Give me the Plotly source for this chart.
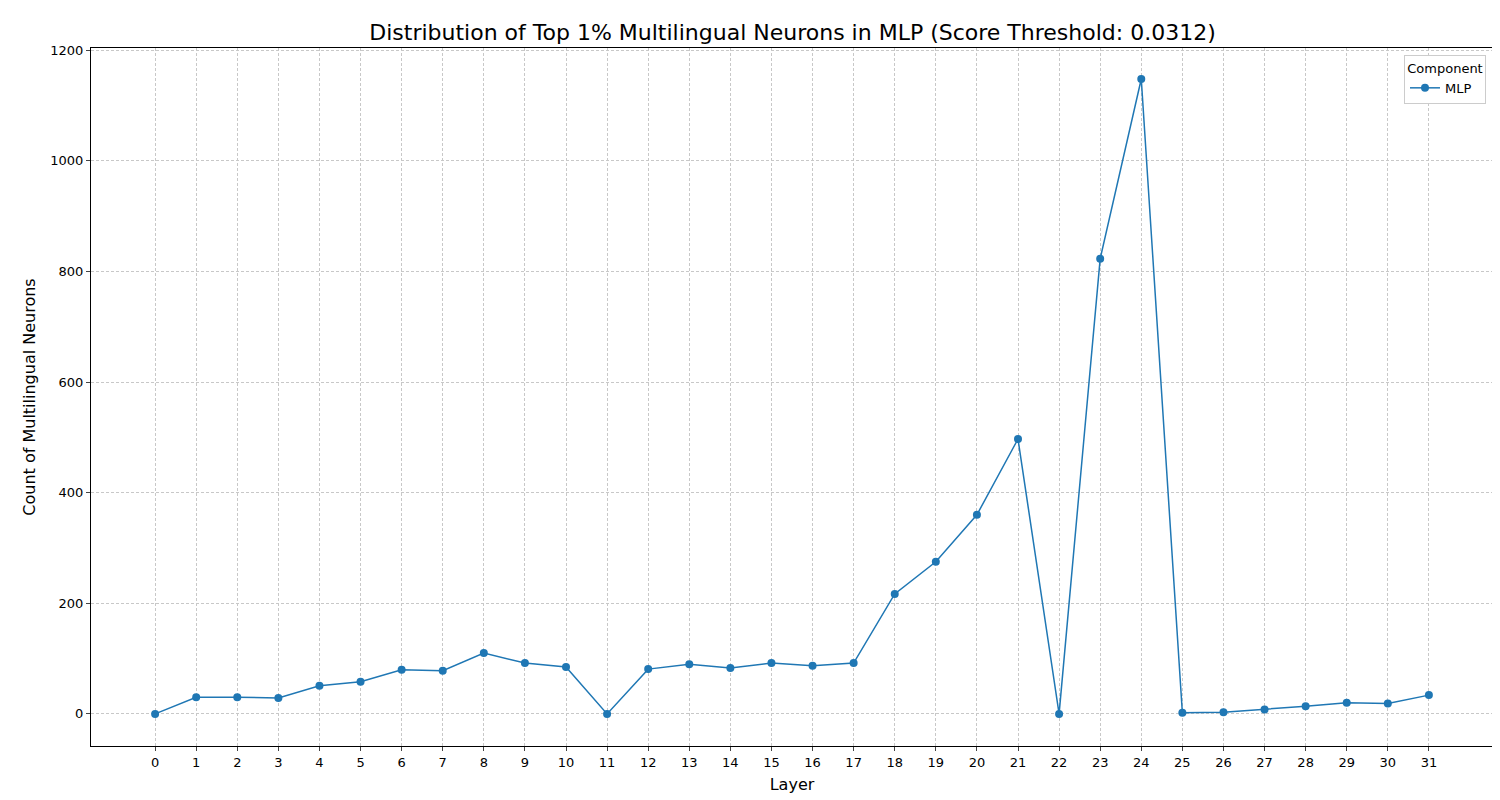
import plotly.graph_objects as go

layers = list(range(32))
counts = [0, 30, 30, 29, 51, 58, 80, 78, 110, 92, 85, 0, 81, 90, 83, 92, 87, 92,
          217, 275, 360, 497, 0, 823, 1148, 2, 3, 8, 14, 20, 19, 34]

fig = go.Figure(go.Scatter(x=layers, y=counts, mode="lines+markers", name="MLP",
                           line=dict(color="#1f77b4", width=1.5),
                           marker=dict(color="#1f77b4", size=8)))
ax = dict(showline=True, linecolor="black", linewidth=1, mirror=True, ticks="outside", ticklen=4,
          gridcolor="#c8c8c8", griddash="3px,2px", gridwidth=0.6, zeroline=False,
          tickfont=dict(size=13, color="black"), automargin=False)
fig.update_layout(
    width=1500, height=800, plot_bgcolor="white", paper_bgcolor="white",
    font=dict(family="DejaVu Sans", color="black"),
    margin=dict(l=83, r=15, t=40, b=62),
    title=dict(text="Distribution of Top 1% Multilingual Neurons in MLP (Score Threshold: 0.0312)",
               x=0.523, xanchor="center", y=0.97, yanchor="middle", font=dict(size=22)),
    xaxis=dict(ax, range=[-1.56, 32.56], tickmode="array", tickvals=layers,
               title=dict(text="Layer", font=dict(size=16), standoff=10)),
    yaxis=dict(ax, range=[-58, 1204], tickvals=[0, 200, 400, 600, 800, 1000, 1200],
               title=dict(text="Count of Multilingual Neurons", font=dict(size=16), standoff=10)),
    legend=dict(title=dict(text="Component", side="top center", font=dict(size=13)),
                x=0.995, y=0.99, xanchor="right", yanchor="top",
                bordercolor="#cccccc", borderwidth=1, font=dict(size=13)),
    showlegend=True,
)
fig.write_html("out.html")
